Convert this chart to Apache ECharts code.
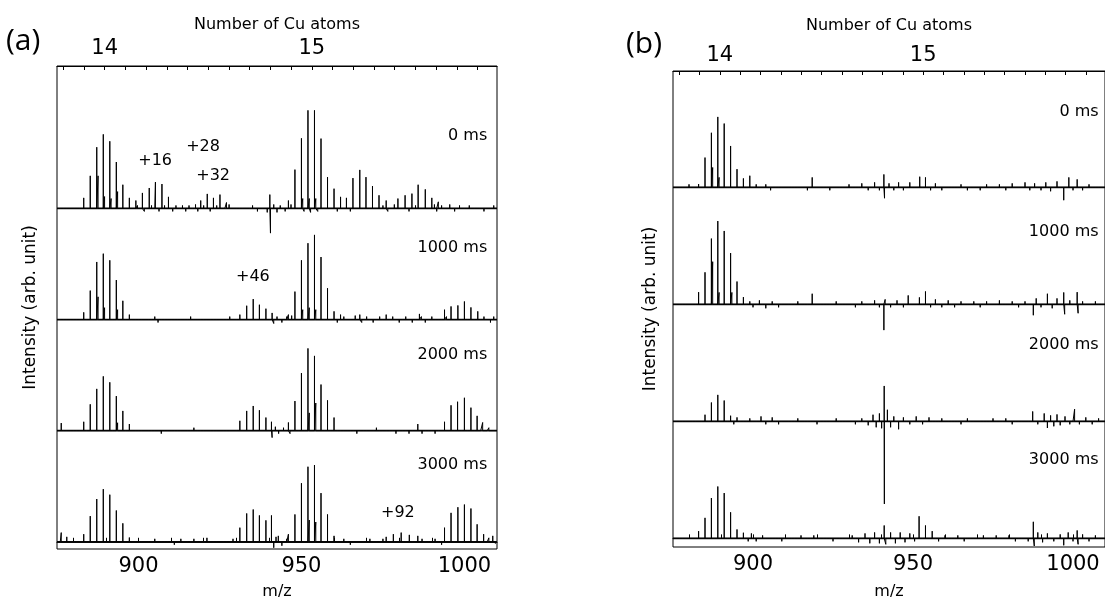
<!DOCTYPE html>
<html>
<head>
<meta charset="utf-8">
<title>Cu cluster mass spectra</title>
<script src="https://cdn.jsdelivr.net/npm/echarts@6/dist/echarts.min.js"></script>
<style>
  html, body { margin: 0; padding: 0; background: #fff; }
  #chart { width: 1105px; height: 605px; }
</style>
</head>
<body>
<div id="chart"></div>
<script>
// ---- axes ----
const traceNames = ['0 ms', '1000 ms', '2000 ms', '3000 ms']
const mzTicks = [880, 890, 900, 910, 920, 930, 940, 950, 960, 970, 980, 990, 1000]
const mzLabels = [900, 950, 1000]
const cuTicks = [13.8, 13.9, 14.0, 14.1, 14.2, 14.3, 14.4, 14.5, 14.6, 14.7, 14.8, 14.9,
  15.0, 15.1, 15.2, 15.3, 15.4, 15.5, 15.6, 15.7, 15.8]
const cuLabels = [14, 15]
const CU_MASS = 63.546

// ---- panel (a): [m/z, intensity] sticks; noise = small sticks on the baseline ----
const a0Peaks = [[883.2, 10.7], [885.2, 33], [887.2, 62], [887.6, 33], [889.2, 75], [889.6, 12], [891.2, 68],
  [891.6, 10], [893.2, 47], [893.6, 17], [895.2, 24], [897.2, 10.7], [899.2, 8],
  [901.2, 15.7], [903.3, 20.7], [905.2, 26.7], [907.2, 24.7], [909.2, 11.7],
  [919.1, 8], [921.1, 14.7], [923, 10.7], [925, 14], [927, 6],
  [940.3, 14], [940.5, -25],
  [946, 8], [948, 39.3], [950, 71], [950.4, 10], [952, 99.3], [952.4, 10], [954, 99.3], [954.4, 10],
  [956, 70.7], [958, 31.7], [960, 20], [962, 11.7],
  [963.8, 10.7], [965.8, 30.7], [967.9, 39], [969.8, 31.7], [971.8, 22.7], [973.8, 13.3], [976, 8],
  [979.6, 10], [981.8, 13.3], [983.9, 15], [985.8, 24], [988, 19.3], [990, 10.7], [992, 6.7]]
const a0Noise = [[876, 1], [877, -1.5], [878, 1], [879, -1], [880.5, 1.5], [882, -1.5], [884, 2], [886, -2],
  [888, 2], [890, -2], [892, 2], [894, -2], [896, 2], [898.3, -2], [899.7, 3], [900.5, -2], [901.8, -3],
  [902.5, 2], [904, 3], [905, -2], [906.3, -3], [908, 3], [909.8, -2], [910.5, -3], [911.5, 3], [912.5, -2],
  [913.5, 3], [914.5, -3], [915.5, 3], [916.5, -2], [917.5, 4], [918.2, -3], [920, 3], [922, -3], [924, 3],
  [926.5, -2], [927.8, 4], [929, -2], [930, 1.5], [931, -2], [932, 2], [933, -2], [934, 1.5], [935, 3],
  [936.5, -3], [938, 2], [939.5, -4], [941.5, 4], [942.5, -4], [943.5, 3], [945, -3], [946.8, 4],
  [949, -2], [950.8, -3], [952.8, -4], [955, -3], [957, 2], [959, -2], [961, -3], [963, 2], [965, -3],
  [967, 2], [969, -2], [971, 2], [973, -2], [975, 3], [976.5, -3], [978.5, 4], [980.5, -2], [983, -3],
  [985, 3], [987, -2], [989, 2], [990.8, 4], [991.5, -3], [993, 3], [994, -2], [995.5, 4], [997, -3],
  [998.5, 3], [1000, -2], [1001.5, 3], [1003, -2], [1004.5, 2], [1006, -3], [1007.5, 2], [1009, 3]]

const a1Peaks = [[883.2, 7.3], [885.2, 29.3], [887.2, 58.3], [887.6, 23], [889.2, 66.7], [889.6, 12], [891.2, 60],
  [893.2, 40], [893.6, 10], [895.2, 19], [897.2, 5],
  [931.1, 5], [933.2, 14], [935.2, 20.7], [937.1, 15], [939.1, 11], [941, 6.7],
  [946, 5], [948, 28.3], [950, 60], [950.4, 10], [952, 77.3], [952.4, 12], [954, 85.7], [954.4, 10],
  [956, 63.3], [958, 31.7], [960, 8.3], [962, 5],
  [967.9, 5], [976, 5], [986.2, 5.7],
  [993.9, 10], [995.9, 13.3], [998, 14.3], [1000, 18.3], [1002, 12.3], [1004.1, 8.3]]
const a1Noise = [[876, 1.5], [877, -1], [878, 1], [879, -1.5], [880, 1.5], [881, -1], [882, -2], [884, 2],
  [886, -2], [888, 2], [890, -2], [892, 2], [894, -1.5], [896, 2], [898, -1.5], [899, -2], [900, 1.5],
  [901, 2], [902, -1], [903, -2], [904, 1.5], [905, 3], [906, -3], [907, 1], [908, 2], [909, -1], [910, -2],
  [911, 1], [912, 2], [913, -1], [914, -2], [915, 1.5], [916, 3], [917, -1], [918, -2], [919, 1], [920, 2],
  [921, -1], [922, -2], [923, 1], [924, 2], [925, -1], [926, -2], [927, 1.5], [928, 3], [929, -1],
  [930, -2], [941.5, -4], [942.5, 3], [944, -3], [945.5, 3], [947, 4], [949, -2], [951, 2], [953, -2],
  [955, 2], [957, -2], [959, 2], [961, -3], [963, 3], [965, -2], [966.5, 4], [968.5, -3], [970, 3],
  [972, -3], [974, 3], [975, -1.5], [976.5, -2], [978, 3], [979, -1], [980, -3], [981, 1.5], [982, 3],
  [983, -1], [984, -3], [985, 1.5], [986.8, 3], [988, -3], [989, 1.5], [990, 3], [991, -1], [992, -2],
  [993, 1.5], [994.5, 3], [997, -2], [999, 2], [1001, -2], [1003, 2], [1005, -2], [1006, 3], [1008, -3],
  [1009, 3]]

const a2Peaks = [[876.3, 7.7], [883.2, 9], [885.2, 26.7], [887.2, 42.3], [889.2, 55], [891.2, 49], [893.2, 35],
  [893.6, 8], [895.2, 20], [897.2, 6.7],
  [931.1, 10], [933.2, 20], [935.2, 25], [937.1, 20.7], [939.1, 13.3], [940.8, 9],
  [946, 8.3], [948, 30], [950, 58.3], [952, 83.3], [952.4, 18], [954, 75.7], [954.4, 28], [956, 46.7],
  [958, 30.7], [960, 13.3],
  [985.7, 6.7], [993.9, 9], [995.9, 25.7], [997.9, 29.3], [1000, 33.3], [1002, 23.3], [1003.9, 15], [1005.6, 8.3]]
const a2Noise = [[877, -1], [878, -2], [879, 1], [880, 2], [881, -1], [882, -1.5], [884, 1.5], [886, -1.5],
  [888, 1.5], [890, -1.5], [892, 1.5], [894, -1.5], [896, 1.5], [898, -1], [899, -2], [900, 1], [901, 1.5],
  [902, -1], [903, -2], [904, 1], [905, 2], [906, -1], [907, -3], [908, 1], [909, 2], [910, -1], [911, -2],
  [912, 1], [913, 2], [914, -1], [915, -2], [916, 1], [917, 3], [918, -1], [919, -2], [920, 1], [921, 2],
  [922, -1], [923, -2], [924, 1], [925, 2], [926, -1], [927, -2], [928, 1], [929, 2], [930, -1.5],
  [941, -7], [942, 4], [943, -3], [944.5, 3], [946.5, -3], [949, 2], [951, -2], [953, 2], [955, -2],
  [957, 2], [959, -2], [961, 2], [962, -1], [963, -2], [964, 1], [965, 2], [966, -1], [967, -3], [968, 1],
  [969, 2], [970, -1], [971, -2], [972, 1], [973, 3], [974, -1], [975, -2], [976, 1], [977, 2], [978, -1],
  [979, -3], [980, 1], [981, 2], [982, -1], [983, -3], [984, 1.5], [987, -3], [988, 1], [989, 2],
  [990, -1], [991, -3], [992, 1.5], [995, -2], [997, 2], [999, -2], [1001, 2], [1003, -2], [1005, 2],
  [1007, -1.5], [1007.5, 3], [1009, -2]]

const a3Peaks = [[876.3, 9.3], [878, 5], [883.2, 7.7], [885.2, 26], [887.2, 43.3], [889.2, 53.3], [891.2, 47.7],
  [893.2, 31.7], [895.2, 18.7], [897.2, 4.3],
  [931.1, 14.3], [933.2, 28.7], [935.2, 32.7], [937.1, 26.7], [939.1, 21.7], [940.8, 26.7], [942.9, 6],
  [946, 7.7], [948, 27.7], [950, 59.3], [952, 76], [952.4, 22], [954, 77.7], [954.4, 20], [956, 49.3],
  [958, 27.7], [960, 6],
  [976, 5], [978.2, 7.7], [980.6, 9.3], [983.1, 7], [985.7, 6],
  [993.9, 14.3], [995.9, 29.3], [998, 35], [1000, 37.7], [1002, 33.7], [1003.9, 17.7], [1005.9, 7.7], [1008.7, 6]]
const a3Noise = [[876, 1], [877, -2], [878, 1], [879, 2], [880, -1], [881, -2], [882, 1.5], [884, -1.5],
  [886, 2], [888, -2], [890, 2], [892, -2], [894, 2], [896, -1.5], [898, 1.5], [899, -2], [900, 1],
  [901, 2], [902, -1], [903, -2], [904, 1], [905, 3], [906, -1], [907, -2], [908, 1], [909, 2], [910, -1],
  [911, -3], [912, 1], [913, 3], [914, -1], [915, -2], [916, 1], [917, 3], [918, -1], [919, -2], [920, 1],
  [921, 4], [922, -1], [923, -2], [924, 1], [925, 2], [926, -1], [927, -2], [928, 1], [929, 3], [930, -1],
  [941.5, -6], [942.2, 5], [944, -4], [945.5, 3], [949, -2], [951, 2], [953, -2], [955, 2], [957, -2],
  [959, 2], [961, -2], [962, 1], [963, 3], [964, -1], [965, -3], [966, 1], [967, 2], [968, -1], [969, -2],
  [970, 1], [971, 3], [972, -1], [973, -2], [974, 1], [975, 3], [977, -2], [979, 2], [982, -2], [984, 2],
  [987, 3], [988, -1], [989, -2], [990, 1], [991, 3], [992, -1], [993, -3], [995, 2], [997, -2], [999, 2],
  [1001, -2], [1003, 2], [1005, -2], [1007, 2], [1007.5, 4], [1009.5, -2]]

// ---- panel (b) ----
const b0Peaks = [[883, 3.3], [885, 30], [887, 55], [887.4, 20], [889, 71], [889.4, 10], [891, 64.3],
  [893, 41.7], [895, 18.3], [897, 9], [899, 11.7]]
const b0Noise = [[876, 2], [877, -1], [878, -2], [879, 1], [880, 3], [881.5, -2], [883.5, 1.5], [886, -1.5],
  [888, 2], [890, -2], [892, 2], [894, -2], [896, 2], [898, -2], [900, 1.5], [901, 3], [902.5, -2], [904, 3],
  [905.5, -3], [907, 2], [908, -1], [909, -2], [910, 1], [911, 2], [912, -1], [913, -2], [914, 1], [915, 2],
  [916, -1], [917, -3], [918.5, 10], [919, 1], [920, -2], [921, 1], [922, 2], [923, -1], [924, -3], [925, 1],
  [926, 2], [927, -1], [928, -2], [929, 1], [930, 3], [931, -1], [932, -2], [933, 1], [934, 4], [935, -1],
  [936, -3], [937, 2], [938, 5], [939.5, -3], [940.9, 13], [941.1, -11], [942.5, 4], [944, -3], [945.5, 5],
  [947, -3], [949, 5], [950.5, -2], [952.1, 10.7], [953, -2], [953.9, 10], [955.5, -3], [957, 4], [958, -1],
  [959, -3], [960, 1], [961, 2], [962, -1], [963, -2], [964, 1], [965, 3], [966, -1], [967, -3], [968, 1],
  [969, 2], [970, -1], [971, -3], [972, 1], [973, 3], [974, -1], [975, -2], [976, 1], [977, 3], [978, -1],
  [979, -3], [980, 1], [981, 4], [982, -1], [983, -2], [984, 1], [985, 5], [986.5, -3], [988, 4], [989, -1],
  [990, -3], [991.5, 5], [993, -4], [994, 2], [995, 6], [996, -2], [997.1, -13], [998.7, 10], [1000, -3],
  [1001.3, 8], [1002, -1], [1003, -3], [1004, 1], [1005, 3], [1006, -1], [1007, -2], [1008, 1], [1009, 2]]

const b1Peaks = [[883, 12.3], [885, 32.3], [887, 66.3], [887.4, 43], [889, 84], [889.4, 12], [891, 74],
  [893, 51.7], [893.4, 12], [895, 23], [897, 7.3]]
const b1Noise = [[876, 2], [877, -1], [878, -2], [879, 1], [880, 2], [881, -1.5], [882, 1], [884, -1.5],
  [886, 2], [888, -2], [890, 2], [892, -2], [894, 2], [896, -2], [898, 2], [899, 3], [900, -3], [901, 1],
  [902, 4], [903, -1], [904, -4], [905, 1], [906, 3], [907, -1], [908, -3], [909, 1], [910, 2], [911, -1],
  [912, -2], [913, 1], [914, 3], [915, -1], [916, -2], [917, 1], [918.5, 10.7], [919, -1], [920, -2],
  [921, 1], [922, 2], [923, -1], [924, -2], [925, 1], [926, 3], [927, -1], [928, -2], [929, 1], [930, 2],
  [931, -1], [932, -3], [933, 1], [934, 3], [935, -1], [936, -2], [937, 1], [938, 4], [939.5, -3],
  [940.9, -26], [941.3, 5], [942, -1], [943, -3], [944, 1], [945, 4], [946, -1], [947, -3], [948.5, 9],
  [950, -2], [951, 1], [952, 7], [953, -1], [953.9, 13], [955.5, -3], [957, 5], [958, -1], [959, -3],
  [960, 1], [961, 4], [962, -1], [963, -3], [964, 1], [965, 3], [966, -1], [967, -2], [968, 1], [969, 3],
  [970, -1], [971, -3], [972, 1], [973, 3], [974, -1], [975, -2], [976, 1], [977, 4], [978, -1], [979, -2],
  [980, 1], [981, 3], [982, -1], [983, -3], [984, 1], [985, 3], [986, -1], [987.6, -11], [988.5, 6],
  [990, -3], [991, 1], [992, 10.7], [993.5, -4], [995, 6], [996, -1], [997.1, 12], [997.4, -10], [999, 4],
  [1000, -1], [1001.3, 12.3], [1001.6, -9], [1003, 3], [1004, -1], [1005, -2], [1006, 1], [1007, 3],
  [1008, -1], [1009, -2]]

const b2Peaks = [[885, 6.7], [887, 19], [889, 26.7], [891, 21], [893, 5.7], [941, 35.7], [941.05, -83.3]]
const b2Noise = [[876, 2], [877, -1], [878, -2], [879, 1], [880, 2], [881, -1], [882, -2], [884, 1.5],
  [886, -1.5], [888, 1.5], [890, -1.5], [892, 1.5], [894, -3], [895, 4], [896, -1], [897, -2], [898, 1],
  [899, 3], [900, -1], [901, -2], [902.5, 5], [903, -1], [904, -3], [905, 1], [906, 4], [907, -1],
  [908, -3], [909, 1], [910, 2], [911, -1], [912, -2], [913, 1], [914, 3], [915, -1], [916, -2], [917, 1],
  [918, 2], [919, -1], [920, -3], [921, 1], [922, 2], [923, -1], [924, -2], [925, 1], [926, 3], [927, -1],
  [928, -2], [929, 1], [930, 2], [931, -1], [932, -3], [933, 1], [934, 3], [935, -1], [936, -4],
  [937.5, 6.7], [938.5, -6], [939.5, 8], [940.2, -7], [942, 11.7], [943, -6],
  [944, 5], [945.5, -8], [947, 4], [948, -1], [949, -3], [950, 1], [951, 5], [952, -1], [953, -3], [954, 1],
  [955, 4], [956, -1], [957, -2], [958, 1], [959, 3], [960, -1], [961, -2], [962, 1], [963, 2], [964, -1],
  [965, -3], [966, 1], [967, 3], [968, -1], [969, -2], [970, 1], [971, 2], [972, -1], [973, -2], [974, 1],
  [975, 3], [976, -1], [977, -2], [978, 1], [979, 3], [980, -1], [981, -3], [982, 1], [983, 2], [984, -1],
  [985, -2], [986, 1], [987.4, 10], [988, -1], [989, -3], [990, 1], [991, 8], [992, -6.7], [993, 6],
  [994, -5], [995, 7], [996, -4], [997.5, 5], [998, -1], [999, -3], [1000, 1], [1000.5, 12.3], [1001, -1],
  [1002, -3], [1003, 1], [1004, 4], [1005, -1], [1006, -3], [1007, 1], [1008, 3], [1009, -1]]

const b3Peaks = [[883, 7.3], [885, 20.7], [887, 40.7], [889, 52.3], [891, 45.7], [893, 26.3], [895, 9], [897, 5.7]]
const b3Noise = [[876, 2], [877, -1], [878, -2], [879, 1], [880, 2], [881, -1], [882, -2], [884, 1.5],
  [886, -2], [888, 2], [890, -2], [892, 2], [894, -2], [896, 2], [898.5, -3], [899.5, 5], [900, -1],
  [901, -3], [902, 1], [903, 3], [904, -1], [905, -2], [906, 1], [907, 2], [908, -1], [909, -3], [910, 1],
  [911, 2], [912, -1], [913, -2], [914, 1], [915, 3], [916, -1], [917, -2], [918, 1], [919, 3], [920, -1],
  [921, -2], [922, 1], [923, 2], [924, -1], [925, -3], [926, 1], [927, 2], [928, -1], [929, -2], [930, 1],
  [931, 3], [932, -1], [933, -4], [934, 1], [935, 5], [936.5, -5], [938, 6], [939.5, -5], [941, 13],
  [941.5, -6], [943, 6], [944.5, -5], [946, 6], [947.5, -4], [949, 5], [950.5, -3], [951.9, 22.3],
  [953, -2], [953.9, 13], [955, -2], [956, 7.3], [957, -1], [958, -3], [959, 1], [960, 3], [961, -1],
  [962, -2], [963, 1], [964, 3], [965, -1], [966, -3], [967, 1], [968, 2], [969, -1], [970, -2], [971, 1],
  [972, 3], [973, -1], [974, -2], [975, 1], [976, 3], [977, -1], [978, -2], [979, 1], [980, 3], [981, -1],
  [982, -3], [983, 1], [984, 2], [985, -1], [986, -3], [987.6, 16.7], [987.9, -7.7], [989, 6], [990.5, -4],
  [991, 1], [992, 5], [993, -1], [994, -3], [995, 1], [996, 4], [997.1, -7], [998.5, 6], [999, -1],
  [1000, -3], [1001.3, 8], [1001.6, -6], [1003, 4], [1004, -1], [1005, -3], [1006, 1], [1007, 3],
  [1008, -1], [1009, -2]]

// annotations in panel (a): [text, m/z, height above trace baseline, trace index]
const annotA = [['+16', 905.1, 48, 0], ['+28', 919.8, 62, 0], ['+32', 922.9, 33, 0],
  ['+46', 935.1, 43, 1], ['+92', 979.6, 29, 3]]

// ---- chart ----
const chart = echarts.init(document.getElementById('chart'))
const FONT = '"DejaVu Sans", sans-serif'
const TEXT = '#000'
const MZ_MIN = 875
const MZ_MAX = 1010

// vertical offset of each trace (0 ms at top), and where its label sits above it
const stepA = 112.5
const stepB = 118
const offA = [3 * stepA, 2 * stepA, stepA, 0]
const offB = [3 * stepB, 2 * stepB, stepB, 0]
const riseA = [73, 73, 77, 78]
const riseB = [76, 73, 77, 79]

// every stick goes base -> base+h -> base, joined along the baseline
function traceLine(peaks, noise, base) {
  let pts = peaks.concat(noise).sort((p, q) => p[0] - q[0])
  let data = [[MZ_MIN, base]]
  pts.forEach(p => {
    data.push([p[0], base], [p[0], base + p[1]], [p[0], base])
  })
  data.push([MZ_MAX, base])
  return data
}

function bottomAxis(grid, gap, margin) {
  return {
    type: 'value', gridIndex: grid, position: 'bottom', min: MZ_MIN, max: MZ_MAX,
    name: 'm/z', nameLocation: 'middle', nameGap: gap,
    nameTextStyle: { fontSize: 16, color: TEXT, fontFamily: FONT },
    axisLine: { show: true, lineStyle: { color: '#000', width: 1 } },
    axisTick: { show: true, inside: true, length: 4, customValues: mzTicks, lineStyle: { color: '#000' } },
    axisLabel: {
      customValues: mzLabels, fontSize: 21, color: TEXT, margin: margin, fontFamily: FONT,
      formatter: v => String(v)
    },
    splitLine: { show: false }
  }
}

function topAxis(grid, gap, margin) {
  return {
    type: 'value', gridIndex: grid, position: 'top', min: MZ_MIN, max: MZ_MAX,
    name: 'Number of Cu atoms', nameLocation: 'middle', nameGap: gap,
    nameTextStyle: { fontSize: 16, color: TEXT, fontFamily: FONT },
    axisLine: { show: true, lineStyle: { color: '#000', width: 1 } },
    axisTick: {
      show: true, inside: true, length: 4,
      customValues: cuTicks.map(n => n * CU_MASS), lineStyle: { color: '#000' }
    },
    axisLabel: {
      customValues: cuLabels.map(n => n * CU_MASS), fontSize: 21, color: TEXT, margin: margin, fontFamily: FONT,
      formatter: v => String(Math.round(v / CU_MASS))
    },
    splitLine: { show: false }
  }
}

function yAxis(grid, min, max, gap) {
  return {
    type: 'value', gridIndex: grid, min: min, max: max,
    name: 'Intensity (arb. unit)', nameLocation: 'middle', nameGap: gap, nameRotate: 90,
    nameTextStyle: { fontSize: 17, color: TEXT, fontFamily: FONT },
    axisLine: { show: false }, axisTick: { show: false }, axisLabel: { show: false },
    splitLine: { show: false }
  }
}

let series = []
const tracesA = [[a0Peaks, a0Noise], [a1Peaks, a1Noise], [a2Peaks, a2Noise], [a3Peaks, a3Noise]]
const tracesB = [[b0Peaks, b0Noise], [b1Peaks, b1Noise], [b2Peaks, b2Noise], [b3Peaks, b3Noise]]

function addTrace(xIdx, yIdx, t, base, name) {
  // zero-intensity baseline, drawn a little heavier so it reads like the noisy trace
  series.push({
    type: 'line', xAxisIndex: xIdx, yAxisIndex: yIdx, name: name + ' base',
    data: [[MZ_MIN, base], [MZ_MAX, base]], showSymbol: false, symbol: 'none',
    lineStyle: { color: '#111', width: 1.8 }, silent: true
  })
  series.push({
    type: 'line', xAxisIndex: xIdx, yAxisIndex: yIdx, name: name,
    data: traceLine(t[0], t[1], base), showSymbol: false, symbol: 'none',
    lineStyle: { color: '#000', width: 1 }, silent: true
  })
}
tracesA.forEach((t, i) => addTrace(0, 0, t, offA[i], 'a ' + traceNames[i]))
tracesB.forEach((t, i) => addTrace(2, 1, t, offB[i], 'b ' + traceNames[i]))

// text placed in data space through a custom series
function textSeries(xIdx, yIdx, points, texts, align) {
  return {
    type: 'custom', xAxisIndex: xIdx, yAxisIndex: yIdx, silent: true, clip: false,
    data: points,
    renderItem: (params, api) => {
      let p = api.coord([api.value(0), api.value(1)])
      return {
        type: 'text', x: p[0], y: p[1],
        style: {
          text: texts[params.dataIndex], fill: TEXT, fontSize: 16, fontFamily: FONT,
          align: align, verticalAlign: 'middle'
        }
      }
    }
  }
}
series.push(textSeries(0, 0, offA.map((o, i) => [1007, o + riseA[i]]), traceNames, 'right'))
series.push(textSeries(2, 1, offB.map((o, i) => [1008, o + riseB[i]]), traceNames, 'right'))
series.push(textSeries(0, 0, annotA.map(a => [a[1], offA[a[3]] + a[2]]), annotA.map(a => a[0]), 'center'))

chart.setOption({
  animation: false,
  backgroundColor: '#fff',
  grid: [
    { left: 57, top: 66, width: 440, height: 489, show: true, borderColor: '#000', borderWidth: 1 },
    { left: 673, top: 71, width: 434, height: 480, show: true, borderColor: '#000', borderWidth: 1 }
  ],
  xAxis: [bottomAxis(0, 35, 7), topAxis(0, 33, 7), bottomAxis(1, 37, 7), topAxis(1, 37, 5)],
  yAxis: [yAxis(0, -7.3, 481.7, 18), yAxis(1, -8.7, 471.3, 14)],
  graphic: [
    { type: 'text', left: 6, top: 26, style: { text: '(a)', fontSize: 30, fill: '#000', fontFamily: '"Open Sans", sans-serif' } },
    { type: 'text', left: 626, top: 29, style: { text: '(b)', fontSize: 30, fill: '#000', fontFamily: '"Open Sans", sans-serif' } }
  ],
  series: series
})
</script>
</body>
</html>
